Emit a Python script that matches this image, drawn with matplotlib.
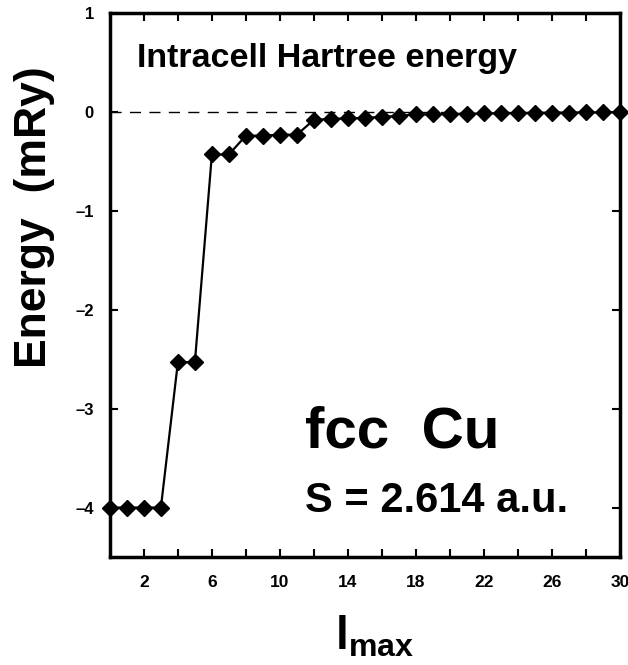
import matplotlib
matplotlib.use('Agg')
import matplotlib.pyplot as plt

plt.rcParams['font.family'] = ['Liberation Sans', 'DejaVu Sans']
plt.rcParams['font.weight'] = 'bold'
plt.rcParams['mathtext.fontset'] = 'custom'
plt.rcParams['mathtext.bf'] = 'Liberation Sans:bold'
plt.rcParams['mathtext.rm'] = 'Liberation Sans:bold'

# intracell Hartree energy vs. angular cutoff l_max
lmax = list(range(0, 31))
energy = [-4.00, -4.00, -4.00, -4.00, -2.53, -2.53, -0.43, -0.43,
          -0.24, -0.24, -0.23, -0.23, -0.08, -0.07, -0.065, -0.06,
          -0.05, -0.04, -0.025, -0.025, -0.02, -0.018, -0.015, -0.013,
          -0.012, -0.01, -0.008, -0.006, -0.005, -0.004, -0.003]

xticks_major = [2, 6, 10, 14, 18, 22, 26, 30]
xticks_minor = [4, 8, 12, 16, 20, 24, 28]
yticks = [1, 0, -1, -2, -3, -4]
ytick_labels = ['1', '0', '–1', '–2', '–3', '–4']

fig = plt.figure(figsize=(6.28, 6.65), dpi=100)
ax = fig.add_axes([0.175, 0.1624, 0.812, 0.818])

ax.axhline(0, color='black', lw=1.0, ls=(0, (8, 6)), zorder=1)
ax.plot(lmax, energy, color='black', lw=1.6, marker='D', markersize=8.5,
        clip_on=False, zorder=3)

ax.set_xlim(0, 30)
ax.set_ylim(-4.5, 1)

ax.set_xticks(xticks_major)
ax.set_xticks(xticks_minor, minor=True)
ax.set_yticks(yticks)
ax.set_yticklabels(ytick_labels)
ax.tick_params(which='both', direction='in', length=6, width=1.5,
               top=True, right=True)
ax.tick_params(axis='y', pad=11.5, labelsize=12)
ax.tick_params(axis='x', which='major', pad=13, labelsize=12.5)
for lab in ax.get_xticklabels() + ax.get_yticklabels():
    lab.set_fontweight('bold')
for sp in ax.spines.values():
    sp.set_linewidth(2.5)

ax.set_ylabel('Energy  (mRy)', fontsize=32, fontweight='bold')
ax.yaxis.set_label_coords(-0.108, 0.625)
ax.set_xlabel(r'$\mathbf{l}_{\mathbf{max}}$', fontsize=33)
ax.xaxis.set_label_coords(0.52, -0.104)

ax.text(0.053, 0.917, 'Intracell Hartree energy', transform=ax.transAxes,
        fontsize=24.5, fontweight='bold', va='center', ha='left')
ax.text(0.383, 0.228, 'fcc  Cu', transform=ax.transAxes,
        fontsize=42, fontweight='bold', va='center', ha='left')
ax.text(0.383, 0.103, 'S = 2.614 a.u.', transform=ax.transAxes,
        fontsize=30, fontweight='bold', va='center', ha='left')

fig.savefig('out.png', dpi=100)
